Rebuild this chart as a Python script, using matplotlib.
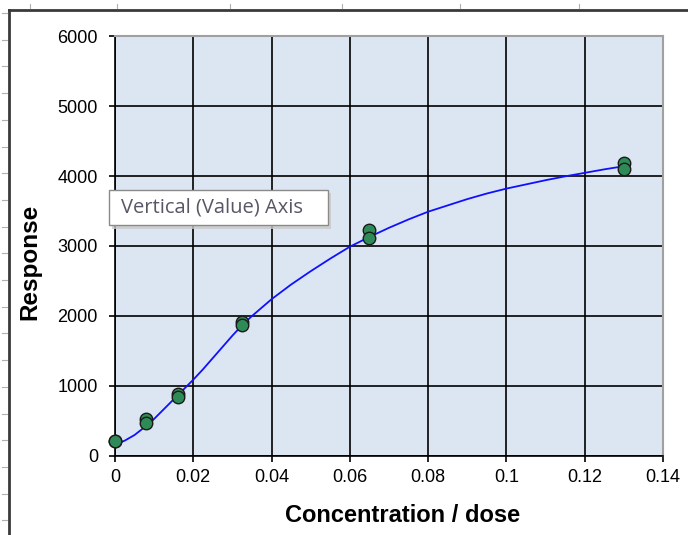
import numpy as np
import matplotlib
matplotlib.use("Agg")
import matplotlib.pyplot as plt
from matplotlib.patches import Rectangle
from matplotlib.lines import Line2D
from matplotlib.ticker import FuncFormatter

# measured points (duplicates at each concentration)
conc = [0, 0, 0.008, 0.008, 0.016, 0.016, 0.0325, 0.0325, 0.065, 0.065, 0.13, 0.13]
response = [220, 210, 530, 470, 880, 850, 1920, 1870, 3230, 3110, 4190, 4100]

# fitted curve
fit_x = [0, 0.0025, 0.005, 0.0075, 0.01, 0.0125, 0.015, 0.0175, 0.02,
         0.0225, 0.025, 0.0275, 0.03, 0.0325, 0.035, 0.0375, 0.04, 0.045,
         0.05, 0.055, 0.06, 0.065, 0.07, 0.075, 0.08, 0.085, 0.09, 0.095,
         0.1, 0.105, 0.11, 0.115, 0.12, 0.125, 0.13]
fit_y = [160, 220, 300, 410, 530, 670, 810, 950, 1090,
         1240, 1400, 1560, 1720, 1870, 2000, 2120, 2240, 2450,
         2640, 2820, 2990, 3130, 3260, 3380, 3490, 3580, 3670, 3750,
         3820, 3880, 3940, 3995, 4045, 4095, 4140]

x_ticks = [0, 0.02, 0.04, 0.06, 0.08, 0.1, 0.12, 0.14]
y_ticks = [0, 1000, 2000, 3000, 4000, 5000, 6000]
tooltip_text = "Vertical (Value) Axis"

W, H = 688, 535
plt.rcParams["font.family"] = ["Liberation Sans", "DejaVu Sans"]
fig = plt.figure(figsize=(W / 100, H / 100), dpi=100)


def fx(px):
    return px / W


def fy(py):
    return 1 - py / H


ax = fig.add_axes([fx(115), fy(456), (663 - 115) / W, (456 - 36) / H])
ax.set_facecolor("#dce6f2")
ax.plot(fit_x, fit_y, color="#1010ff", lw=1.3, zorder=3)
ax.plot(conc, response, "o", ms=9, mfc="#2e8b57", mec="#1a1a1a", mew=1.0,
        zorder=4, clip_on=False)

ax.set_xlim(0, 0.14)
ax.set_ylim(0, 6000)
ax.set_xticks(x_ticks)
ax.set_yticks(y_ticks)
ax.xaxis.set_major_formatter(FuncFormatter(lambda v, p: f"{v:g}"))
ax.grid(True, color="black", lw=1.2)
ax.set_axisbelow(True)
ax.tick_params(direction="out", length=4.3, width=1.2, color="black",
               labelsize=13)
ax.tick_params(axis="x", pad=5)
ax.tick_params(axis="y", pad=8)
for s in ["left", "bottom"]:
    ax.spines[s].set_color("black")
    ax.spines[s].set_linewidth(1.2)
for s in ["top", "right"]:
    ax.spines[s].set_color("#a0a0a0")
    ax.spines[s].set_linewidth(1.5)

ax.set_xlabel("Concentration / dose", fontsize=17, fontweight="bold", va="center")
ax.xaxis.set_label_coords((403 - 115) / 548, (456 - 516) / 420)
ax.set_ylabel("Response", fontsize=17.5, fontweight="bold", va="center")
ax.yaxis.set_label_coords((30 - 115) / 548, (456 - 262) / 420)

# outer chart frame
fig.add_artist(Line2D([fx(9), fx(9)], [fy(10), 0], transform=fig.transFigure,
                      color="#3a3a3a", lw=2))
fig.add_artist(Line2D([fx(9), 1], [fy(10), fy(10)], transform=fig.transFigure,
                      color="#3a3a3a", lw=2))
# little ruler marks in the margin
for py in np.arange(13, H, 26.7):
    fig.add_artist(Line2D([fx(2), fx(7)], [fy(py), fy(py)], transform=fig.transFigure,
                          color="#b0b0b0", lw=0.8))
for px in [30, 117, 230, 342, 460, 579]:
    fig.add_artist(Line2D([fx(px), fx(px)], [fy(4), fy(8)], transform=fig.transFigure,
                          color="#b0b0b0", lw=0.8))

# tooltip with shadow
fig.add_artist(Rectangle((fx(112), fy(229)), (328 - 109) / W, (229 - 193) / H,
                         transform=fig.transFigure, facecolor="#c8c8c8",
                         edgecolor="none", alpha=0.8, zorder=9))
fig.add_artist(Rectangle((fx(109), fy(225)), (328 - 109) / W, (225 - 190) / H,
                         transform=fig.transFigure, facecolor="white",
                         edgecolor="#8a8a8a", lw=1, zorder=10))
fig.text(fx(121), fy(208), tooltip_text, fontsize=14.5, color="#575766",
         family=["Open Sans", "DejaVu Sans"], va="center", ha="left", zorder=11)

fig.savefig("out.png", dpi=100)
